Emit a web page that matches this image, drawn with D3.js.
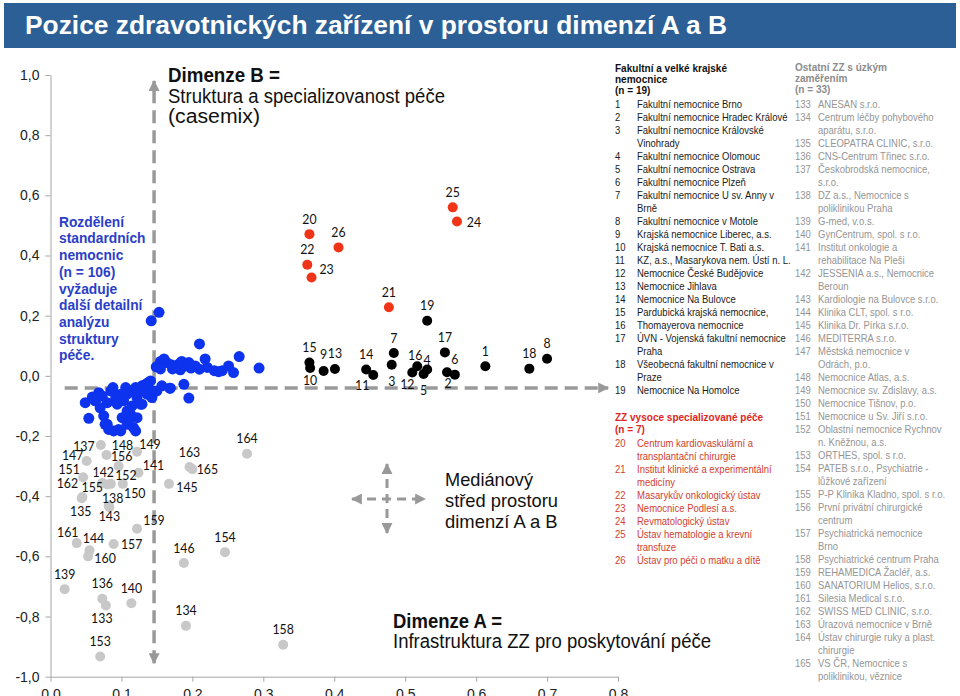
<!DOCTYPE html>
<html>
<head>
<meta charset="utf-8">
<script src="https://cdn.jsdelivr.net/npm/d3@7"></script>
<style>
  body { margin: 0; background: #fff; }
  svg text { font-family: "Liberation Sans", Arial, sans-serif; }
</style>
</head>
<body>
<div id="chart"></div>
<script>
// dimenze A (x), dimenze B (y) for each facility: [id, A, B]
const facultyPoints = [
  [1, 0.613, 0.032], [2, 0.559, 0.012], [3, 0.481, 0.037], [4, 0.531, 0.021],
  [5, 0.526, 0.006], [6, 0.570, 0.004], [7, 0.484, 0.076], [8, 0.700, 0.057],
  [9, 0.385, 0.016], [10, 0.366, 0.026], [11, 0.455, 0.003], [12, 0.510, 0.011],
  [13, 0.401, 0.023], [14, 0.445, 0.021], [15, 0.365, 0.044], [16, 0.517, 0.032],
  [17, 0.556, 0.078], [18, 0.675, 0.024], [19, 0.531, 0.183]
];

const specialPoints = [
  [20, 0.365, 0.471], [21, 0.477, 0.228], [22, 0.362, 0.369], [23, 0.368, 0.327],
  [24, 0.573, 0.513], [25, 0.567, 0.560], [26, 0.406, 0.427]
];

const otherPoints = [
  [133, 0.078, -0.763], [134, 0.191, -0.831], [135, 0.044, -0.407], [136, 0.073, -0.741],
  [137, 0.071, -0.230], [138, 0.082, -0.431], [139, 0.020, -0.709], [140, 0.114, -0.756],
  [141, 0.124, -0.322], [142, 0.073, -0.356], [143, 0.083, -0.437], [144, 0.055, -0.580],
  [145, 0.167, -0.359], [146, 0.188, -0.622], [147, 0.051, -0.283], [148, 0.079, -0.263],
  [149, 0.122, -0.252], [150, 0.085, -0.359], [151, 0.046, -0.337], [152, 0.102, -0.359],
  [153, 0.070, -0.933], [154, 0.246, -0.586], [155, 0.080, -0.361], [156, 0.096, -0.300],
  [157, 0.089, -0.559], [158, 0.328, -0.894], [159, 0.122, -0.508], [160, 0.053, -0.600],
  [161, 0.037, -0.556], [162, 0.045, -0.403], [163, 0.196, -0.303], [164, 0.277, -0.259],
  [165, 0.200, -0.310]
];

// standard hospitals (n = 106), many overlap
const standardPoints = [
  [0.142, 0.183], [0.153, 0.211], [0.210, 0.106], [0.266, 0.064], [0.294, 0.026],
  [0.149, 0.030], [0.155, 0.048], [0.160, 0.056], [0.164, 0.044], [0.170, 0.037],
  [0.176, 0.030], [0.181, 0.039], [0.185, 0.048], [0.190, 0.033], [0.195, 0.044],
  [0.198, 0.026], [0.204, 0.033], [0.210, 0.022], [0.218, 0.056], [0.221, 0.028],
  [0.231, 0.017], [0.237, 0.014], [0.242, 0.017], [0.251, 0.033], [0.258, 0.011],
  [0.172, 0.023], [0.155, 0.023], [0.183, 0.020],
  [0.188, -0.028], [0.195, -0.074], [0.168, -0.041], [0.157, -0.033], [0.150, -0.050],
  [0.049, -0.089], [0.054, -0.141], [0.059, -0.070], [0.063, -0.083], [0.068, -0.056],
  [0.070, -0.106], [0.075, -0.133], [0.077, -0.161], [0.082, -0.178], [0.085, -0.050],
  [0.088, -0.039], [0.092, -0.072], [0.094, -0.094], [0.096, -0.178], [0.101, -0.139],
  [0.106, -0.039], [0.108, -0.061], [0.113, -0.050], [0.115, -0.100], [0.110, -0.156],
  [0.117, -0.172], [0.120, -0.039], [0.123, -0.050], [0.127, -0.094], [0.129, -0.033],
  [0.134, -0.028], [0.138, -0.022], [0.141, -0.017], [0.145, -0.050], [0.143, -0.072],
  [0.136, -0.061], [0.080, -0.089], [0.099, -0.061], [0.103, -0.083], [0.122, -0.072],
  [0.113, -0.128], [0.108, -0.117], [0.073, -0.067], [0.066, -0.072], [0.131, -0.050],
  [0.169, -0.041], [0.120, -0.183], [0.089, -0.183], [0.080, -0.161], [0.099, -0.183],
  [0.108, -0.161], [0.122, -0.139], [0.129, -0.094]
];

// median centre of the A/B space
const medianA = 0.146;
const medianB = -0.04;

const xTicks = [0, 0.1, 0.2, 0.3, 0.4, 0.5, 0.6, 0.7, 0.8];
const yTicks = [-1, -0.8, -0.6, -0.4, -0.2, 0, 0.2, 0.4, 0.6, 0.8, 1];

const facultyNames = [
  [1, ["Fakultní nemocnice Brno"]],
  [2, ["Fakultní nemocnice Hradec Králové"]],
  [3, ["Fakultní nemocnice Královské", "Vinohrady"]],
  [4, ["Fakultní nemocnice Olomouc"]],
  [5, ["Fakultní nemocnice Ostrava"]],
  [6, ["Fakultní nemocnice Plzeň"]],
  [7, ["Fakultní nemocnice U sv. Anny v", "Brně"]],
  [8, ["Fakultní nemocnice v Motole"]],
  [9, ["Krajská nemocnice Liberec, a.s."]],
  [10, ["Krajská nemocnice T. Bati a.s."]],
  [11, ["KZ, a.s., Masarykova nem. Ústí n. L."]],
  [12, ["Nemocnice České Budějovice"]],
  [13, ["Nemocnice Jihlava"]],
  [14, ["Nemocnice Na Bulovce"]],
  [15, ["Pardubická krajská nemocnice,"]],
  [16, ["Thomayerova nemocnice"]],
  [17, ["ÚVN - Vojenská fakultní nemocnice", "Praha"]],
  [18, ["Všeobecná fakultní nemocnice v", "Praze"]],
  [19, ["Nemocnice Na Homolce"]]
];

const specialNames = [
  [20, ["Centrum kardiovaskulární a", "transplantační chirurgie"]],
  [21, ["Institut klinické a experimentální", "medicíny"]],
  [22, ["Masarykův onkologický ústav"]],
  [23, ["Nemocnice Podlesí a.s."]],
  [24, ["Revmatologický ústav"]],
  [25, ["Ústav hematologie a krevní", "transfuze"]],
  [26, ["Ústav pro péči o matku a dítě"]]
];

const otherNames = [
  [133, ["ANESAN s.r.o."]],
  [134, ["Centrum léčby pohybového", "aparátu, s.r.o."]],
  [135, ["CLEOPATRA CLINIC, s.r.o."]],
  [136, ["CNS-Centrum Třinec s.r.o."]],
  [137, ["Českobrodská nemocnice,", "s.r.o."]],
  [138, ["DZ a.s., Nemocnice s", "poliklinikou Praha"]],
  [139, ["G-med, v.o.s."]],
  [140, ["GynCentrum, spol. s r.o."]],
  [141, ["Institut onkologie a", "rehabilitace Na Pleši"]],
  [142, ["JESSENIA a.s., Nemocnice", "Beroun"]],
  [143, ["Kardiologie na Bulovce s.r.o."]],
  [144, ["Klinika CLT, spol. s r.o."]],
  [145, ["Klinika Dr. Pírka s.r.o."]],
  [146, ["MEDITERRA s.r.o."]],
  [147, ["Městská nemocnice v", "Odrách, p.o."]],
  [148, ["Nemocnice Atlas, a.s."]],
  [149, ["Nemocnice sv. Zdislavy, a.s."]],
  [150, ["Nemocnice Tišnov, p.o."]],
  [151, ["Nemocnice u Sv. Jiří s.r.o."]],
  [152, ["Oblastní nemocnice Rychnov", "n. Kněžnou, a.s."]],
  [153, ["ORTHES, spol. s r.o."]],
  [154, ["PATEB s.r.o., Psychiatrie -", "lůžkové zařízení"]],
  [155, ["P-P Klinika Kladno, spol. s r.o."]],
  [156, ["První privátní chirurgické", "centrum"]],
  [157, ["Psychiatrická nemocnice", "Brno"]],
  [158, ["Psychiatrické centrum Praha"]],
  [159, ["REHAMEDICA Žacléř, a.s."]],
  [160, ["SANATORIUM Helios, s.r.o."]],
  [161, ["Silesia Medical s.r.o."]],
  [162, ["SWISS MED CLINIC, s.r.o."]],
  [163, ["Úrazová nemocnice v Brně"]],
  [164, ["Ústav chirurgie ruky a plast.", "chirurgie"]],
  [165, ["VS ČR, Nemocnice s", "poliklinikou, věznice"]]
];

// where each point label sits relative to its dot (default: above)
const labelOffset = {
  2: [1, 11], 3: [0, 16], 4: [0, -9.5], 5: [0, 16], 9: [0, -17], 10: [0, 12],
  11: [-11, 10], 12: [-5, 11], 16: [-2, -11], 23: [15, -9], 24: [17, 0],
  133: [-4, 13], 135: [-1, 13], 137: [-17, 1], 138: [4, -8], 141: [15, -8],
  142: [1, -11], 143: [0, 9], 144: [4, -12], 145: [18, 3], 147: [-14, -6],
  148: [16, -10], 149: [13, -8], 150: [24, 9], 151: [-14, -8], 152: [3, -9],
  155: [-15, 3], 156: [3, -10], 157: [18, 0], 159: [17, -9], 160: [17, 2],
  161: [-9, -11], 162: [-15, -14], 165: [15, 0]
};

const width = 960;
const height = 696;

const svg = d3.select("#chart")
  .append("svg")
  .attr("width", width)
  .attr("height", height);

const defs = svg.append("defs");
defs.append("marker")
  .attr("id", "arrow")
  .attr("viewBox", "0 0 10 10")
  .attr("refX", 9)
  .attr("refY", 5)
  .attr("markerUnits", "userSpaceOnUse")
  .attr("markerWidth", 11)
  .attr("markerHeight", 11)
  .attr("orient", "auto-start-reverse")
  .append("path")
  .attr("d", "M0,0 L10,5 L0,10 z")
  .attr("fill", "#999");

function squeeze(sel, k) {
  sel.each(function() {
    const len = this.getComputedTextLength();
    d3.select(this).attr("textLength", len * k).attr("lengthAdjust", "spacingAndGlyphs");
  });
}

function fit(sel, w) {
  sel.attr("textLength", w).attr("lengthAdjust", "spacingAndGlyphs");
}

// title bar
svg.append("rect")
  .attr("x", 4).attr("y", 3)
  .attr("width", 952).attr("height", 45)
  .attr("fill", "#2b5f96");

svg.append("text")
  .attr("x", 25).attr("y", 34)
  .attr("fill", "#fff")
  .style("font-size", "25px")
  .style("font-weight", "bold")
  .text("Pozice zdravotnických zařízení v prostoru dimenzí A a B")
  .call(fit, 702);

const x = d3.scaleLinear().domain([0, 0.8]).range([50.5, 618]);
const y = d3.scaleLinear().domain([-1, 1]).range([676.7, 75]);

const fmt = v => d3.format(".1f")(v).replace(".", ",").replace("−", "-");

const yAxis = svg.append("g")
  .attr("transform", `translate(${x(0)},0)`)
  .call(d3.axisLeft(y).tickValues(yTicks).tickFormat(fmt).tickSize(5).tickSizeOuter(0).tickPadding(6));

const xAxis = svg.append("g")
  .attr("transform", `translate(0,${y(-1)})`)
  .call(d3.axisBottom(x).tickValues(xTicks).tickFormat(fmt).tickSize(5).tickSizeOuter(0).tickPadding(7));

[xAxis, yAxis].forEach(a => {
  a.select(".domain").attr("stroke", "#a6a6a6");
  a.selectAll(".tick line").attr("stroke", "#a6a6a6");
  a.selectAll(".tick text")
    .attr("fill", "#222")
    .style("font-size", "14px")
    .style("font-family", "'Liberation Sans', Arial, sans-serif");
});

// median cross-hair
const guides = svg.append("g")
  .attr("stroke", "#999")
  .attr("stroke-width", 3.5)
  .attr("stroke-dasharray", "13,7")
  .attr("fill", "none");

guides.append("line")
  .attr("x1", x(medianA)).attr("x2", x(medianA))
  .attr("y1", y(-0.955)).attr("y2", y(0.98))
  .attr("marker-start", "url(#arrow)")
  .attr("marker-end", "url(#arrow)");

guides.append("line")
  .attr("x1", x(0.02)).attr("x2", x(0.786))
  .attr("y1", y(medianB)).attr("y2", y(medianB))
  .attr("marker-end", "url(#arrow)");

// dots
const dots = svg.append("g");

dots.selectAll(".other")
  .data(otherPoints)
  .join("circle")
  .attr("class", "other")
  .attr("cx", d => x(d[1]))
  .attr("cy", d => y(d[2]))
  .attr("r", 5)
  .attr("fill", "#c8c8c8");

dots.selectAll(".standard")
  .data(standardPoints)
  .join("circle")
  .attr("class", "standard")
  .attr("cx", d => x(d[0]))
  .attr("cy", d => y(d[1]))
  .attr("r", 5.5)
  .attr("fill", "#0d33ee");

dots.selectAll(".faculty")
  .data(facultyPoints)
  .join("circle")
  .attr("class", "faculty")
  .attr("cx", d => x(d[1]))
  .attr("cy", d => y(d[2]))
  .attr("r", 5)
  .attr("fill", "#000");

dots.selectAll(".special")
  .data(specialPoints)
  .join("circle")
  .attr("class", "special")
  .attr("cx", d => x(d[1]))
  .attr("cy", d => y(d[2]))
  .attr("r", 5)
  .attr("fill", "#ef3418");

const labelled = [...otherPoints, ...facultyPoints, ...specialPoints];

svg.append("g")
  .selectAll("text")
  .data(labelled)
  .join("text")
  .attr("x", d => x(d[1]) + (labelOffset[d[0]] || [0, -15.5])[0])
  .attr("y", d => y(d[2]) + (labelOffset[d[0]] || [0, -15.5])[1])
  .attr("dy", "0.36em")
  .attr("text-anchor", "middle")
  .attr("fill", "#111")
  .style("font-family", "Lato, sans-serif")
  .style("font-size", "14px")
  .text(d => d[0])
  .call(squeeze, 0.88);

// annotations
const dimB = svg.append("g").attr("fill", "#111").style("font-size", "20px");
dimB.append("text").attr("x", 168).attr("y", 82).style("font-weight", "bold").text("Dimenze B =").call(fit, 112);
dimB.append("text").attr("x", 168).attr("y", 102.5).text("Struktura a specializovanost péče").call(fit, 277);
dimB.append("text").attr("x", 168).attr("y", 123).text("(casemix)").call(fit, 92);

const dimA = svg.append("g").attr("fill", "#111").style("font-size", "20px");
dimA.append("text").attr("x", 393).attr("y", 627.5).style("font-weight", "bold").text("Dimenze A =").call(fit, 109);
dimA.append("text").attr("x", 393).attr("y", 648).text("Infrastruktura ZZ pro poskytování péče").call(fit, 318);

const med = svg.append("g").attr("fill", "#111").style("font-size", "19px");
med.append("text").attr("x", 445).attr("y", 486).text("Mediánový").call(fit, 88);
med.append("text").attr("x", 445).attr("y", 506.5).text("střed prostoru").call(fit, 113);
med.append("text").attr("x", 445).attr("y", 527.5).text("dimenzí A a B").call(fit, 112.5);

// small cross legend
const cross = svg.append("g")
  .attr("stroke", "#999")
  .attr("stroke-width", 3)
  .attr("stroke-dasharray", "9,6");
cross.append("line")
  .attr("x1", 387).attr("x2", 387).attr("y1", 464).attr("y2", 533)
  .attr("marker-start", "url(#arrow)").attr("marker-end", "url(#arrow)");
cross.append("line")
  .attr("x1", 352).attr("x2", 425).attr("y1", 499).attr("y2", 499)
  .attr("marker-start", "url(#arrow)").attr("marker-end", "url(#arrow)");

const blueLines = ["Rozdělení", "standardních", "nemocnic", "(n = 106)", "vyžaduje",
  "další detailní", "analýzu", "struktury", "péče."];
svg.append("g")
  .selectAll("text")
  .data(blueLines)
  .join("text")
  .attr("x", 59)
  .attr("y", (d, i) => 221.5 + i * 16.7)
  .attr("dy", "0.36em")
  .attr("fill", "#2a3ec8")
  .style("font-size", "14.5px")
  .style("font-weight", "bold")
  .text(d => d)
  .call(squeeze, 0.95);

// right-hand lists
const listSize = "11.5px";
const headSize = "11.5px";

const probe = svg.append("text")
  .style("font-family", "Lato, sans-serif").style("font-size", listSize)
  .text("Fakultní nemocnice Hradec Králové");
const listK = 147 / probe.node().getComputedTextLength();
probe.remove();

const hprobe = svg.append("text")
  .style("font-size", headSize).style("font-weight", "bold")
  .text("Fakultní a velké krajské");
const headK = 112 / hprobe.node().getComputedTextLength();
hprobe.remove();

function drawHeader(x0, yCentres, lines, colour) {
  svg.append("g")
    .selectAll("text")
    .data(lines)
    .join("text")
    .attr("x", x0)
    .attr("y", (d, i) => yCentres[i])
    .attr("dy", "0.36em")
    .attr("fill", colour)
    .style("font-size", headSize)
    .style("font-weight", "bold")
    .text(d => d)
    .call(squeeze, headK);
}

function drawList(xNum, xText, yStart, items, colour) {
  const rows = [];
  let row = 0;
  items.forEach(([n, lines]) => {
    lines.forEach((t, j) => rows.push({ n: j === 0 ? n : "", t, row: row + j }));
    row += lines.length;
  });
  const g = svg.append("g")
    .attr("fill", colour)
    .style("font-family", "Lato, sans-serif")
    .style("font-size", listSize);
  g.selectAll(".num")
    .data(rows.filter(r => r.n !== ""))
    .join("text")
    .attr("class", "num")
    .attr("x", xNum)
    .attr("y", r => yStart + r.row * 13)
    .attr("dy", "0.36em")
    .text(r => r.n)
    .call(squeeze, listK);
  g.selectAll(".name")
    .data(rows)
    .join("text")
    .attr("class", "name")
    .attr("x", xText)
    .attr("y", r => yStart + r.row * 13)
    .attr("dy", "0.36em")
    .text(r => r.t)
    .call(squeeze, listK);
}

drawHeader(615, [67.5, 78.5, 89.5], ["Fakultní a velké krajské", "nemocnice", "(n = 19)"], "#111");
drawList(615, 637, 104.3, facultyNames, "#1a1a1a");

drawHeader(615, [416.7, 428.5], ["ZZ vysoce specializované péče", "(n = 7)"], "#e0261c");
drawList(615, 637, 443, specialNames, "#d2402e");

drawHeader(795, [66.7, 77.7, 89], ["Ostatní ZZ s úzkým", "zaměřením", "(n = 33)"], "#8c8c8c");
drawList(795, 818, 104, otherNames, "#959595");
</script>
</body>
</html>
